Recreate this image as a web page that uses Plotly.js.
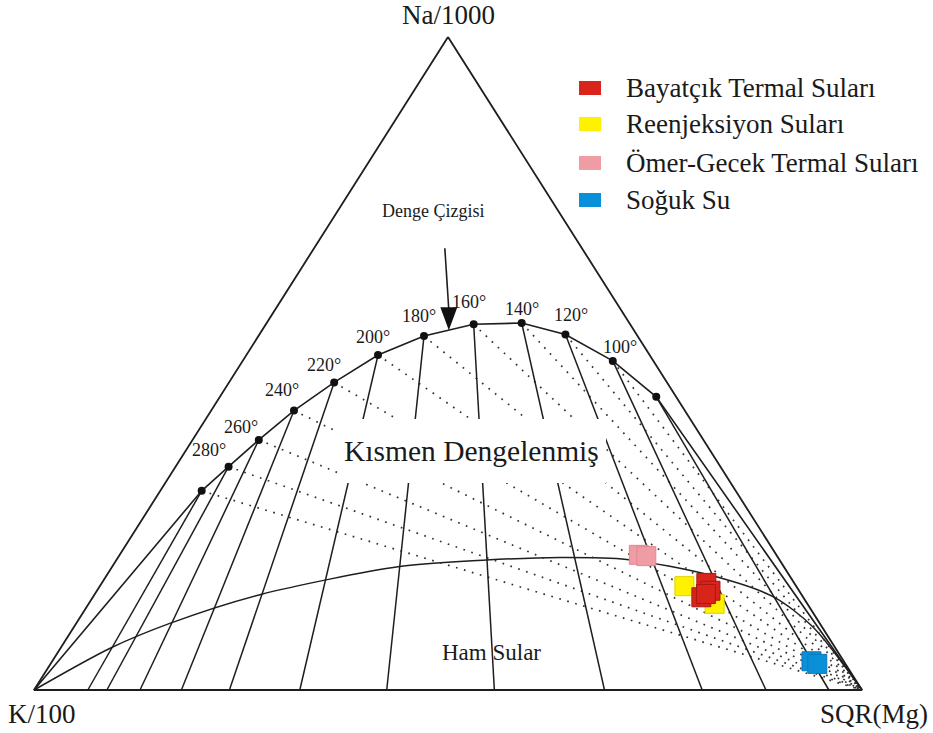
<!DOCTYPE html>
<html><head><meta charset="utf-8">
<script src="https://cdn.plot.ly/plotly-3.0.1.min.js"></script>
<style>html,body{margin:0;padding:0;background:#fff;}#chart{width:933px;height:733px;}</style>
</head><body><div id="chart"></div>
<script>
// ---- Full equilibrium curve (Na/1000, K/100, SQR(Mg); %) ----
const eqTemps = [80, 100, 120, 140, 160, 180, 200, 220, 240, 260, 280, 300];
const eqNa  = [44.9, 50.4, 54.5, 56.2, 56.0, 54.2, 51.3, 47.1, 42.8, 38.3, 34.2, 30.5];
const eqK   = [ 2.4,  4.9,  8.6, 13.0, 18.9, 25.8, 32.8, 40.2, 47.2, 53.7, 59.4, 64.5];
const eqMg  = [52.7, 44.7, 37.0, 30.8, 25.1, 20.0, 15.9, 12.7, 10.0,  8.0,  6.4,  5.0];
// K-Mg isotherms: end points on the K/100 - SQR(Mg) side (SQR(Mg) %), same order as eqTemps
const kmgBaseMg = [96.0, 88.4, 80.7, 68.9, 55.6, 42.6, 32.1, 23.6, 17.8, 12.8, 8.8, 6.5];
// Temperatures that carry a label
const labelTemps = [100, 120, 140, 160, 180, 200, 220, 240, 260, 280];

// ---- Immature waters curve ----
const immNa = [0, 6.4, 10.2, 14.6, 18.9, 19.9, 20.3, 20.0, 17.6, 14.3, 9.7, 0];
const immK  = [100, 87.6, 78.5, 65.4, 46.4, 35.4, 26.3, 18.4, 9.6, 3.6, 1.1, 0];
const immMg = [0, 6.0, 11.3, 20.0, 34.7, 44.7, 53.4, 61.6, 72.8, 82.1, 89.2, 100];

// ---- Samples ----
const seriesNames = ["Bayatçık Termal Suları", "Reenjeksiyon Suları", "Ömer-Gecek Termal Suları", "Soğuk Su"];
const bayatNa = [16.4, 15.2, 14.2, 14.7];
const bayatK  = [10.6, 10.7, 12.3, 11.5];
const bayatMg = [73.0, 74.1, 73.5, 73.8];
const reenjNa = [15.9, 13.2];
const reenjK  = [13.5, 11.2];
const reenjMg = [70.6, 75.6];
const omerNa = [20.7, 20.5];
const omerK  = [16.6, 15.8];
const omerMg = [62.7, 63.7];
const sogukNa = [4.4, 4.0];
const sogukK  = [3.9, 3.4];
const sogukMg = [91.7, 92.6];

// ---- styling / layout constants ----
const colors = {red: "#d9241c", yellow: "#fff200", pink: "#f09ca4", blue: "#0a90d8"};
const lineCol = "#1e1e1e";
const serif = "Liberation Serif, Times New Roman, serif";
const labelDx = [7, 6, 0, -5, -5, -5, -10, -12, -18, -20];
const labelDy = [14, 19, 14, 22, 20, 18, 17, 21, 13, 17];

function xy(na, k, mg) { const s = na + k + mg; const a = na / s, c = mg / s; return [c + a / 2, a]; }
// pixel helpers for decorations (figure px -> plot units)
const PX0 = 34, PW = 828, PY0 = 690, PH = 653;
const px = v => (v - PX0) / PW;
const py = v => (PY0 - v) / PH;

const cNa = [100, 0, 0], cK = [0, 100, 0], cMg = [0, 0, 100];

function pathTrace(points, line, extra) {
  const x = [], y = [];
  points.forEach(p => { if (p === null) { x.push(null); y.push(null); } else { const q = xy(p[0], p[1], p[2]); x.push(q[0]); y.push(q[1]); } });
  return Object.assign({type: "scatter", mode: "lines", x, y, line, hoverinfo: "skip", cliponaxis: false, showlegend: false}, extra || {});
}

const eqPts = eqTemps.map((t, i) => [eqNa[i], eqK[i], eqMg[i]]);

const traces = [];
// triangle
traces.push(pathTrace([cNa, cK, cMg, cNa], {color: lineCol, width: 1.8}));
// immature curve
traces.push(pathTrace(immNa.map((v, i) => [v, immK[i], immMg[i]]), {color: lineCol, width: 1.5, shape: "spline", smoothing: 0.8}));
// Na-K isotherms (dotted) to SQR(Mg) corner
const dotPts = [];
eqTemps.forEach((t, i) => { if (t >= 100) { dotPts.push(eqPts[i], cMg, null); } });
traces.push(pathTrace(dotPts, {color: "#333", width: 1.7, dash: "1.7px,6.6px"}));
// K-Mg isotherms (solid) to K-Mg side
const kmPts = [];
eqTemps.forEach((t, i) => { kmPts.push(eqPts[i], [0, 100 - kmgBaseMg[i], kmgBaseMg[i]], null); });
traces.push(pathTrace(kmPts, {color: lineCol, width: 1.5}));
// full equilibrium curve
const eqCurve = [cK].concat(eqPts.slice().reverse()).concat([cMg]);
traces.push(pathTrace(eqCurve, {color: lineCol, width: 1.6}));
// equilibrium points
traces.push(Object.assign(pathTrace(eqPts, {width: 0}), {mode: "markers", marker: {color: "#111", size: 8}}));

function sampleTrace(na, k, mg, col, lineC, name) {
  const q = na.map((v, i) => xy(v, k[i], mg[i]));
  return {type: "scatter", mode: "markers", name, x: q.map(p => p[0]), y: q.map(p => p[1]),
    marker: {symbol: "square", size: 19, color: col, line: {color: lineC, width: 1}},
    hoverinfo: "name", cliponaxis: false, showlegend: false};
}
traces.push(sampleTrace(reenjNa, reenjK, reenjMg, colors.yellow, "#e0d000", seriesNames[1]));
traces.push(sampleTrace(bayatNa, bayatK, bayatMg, colors.red, "#a81812", seriesNames[0]));
traces.push(sampleTrace(omerNa, omerK, omerMg, colors.pink, "#e08890", seriesNames[2]));
traces.push(sampleTrace(sogukNa, sogukK, sogukMg, colors.blue, "#0a78c0", seriesNames[3]));

const annotations = [];
const txt = (x, y, text, size, xanchor, extra) => Object.assign({x, y, xref: "x", yref: "y", text, showarrow: false,
  xanchor: xanchor || "center", yanchor: "middle", font: {family: serif, size, color: "#1a1a1a"}}, extra || {});

// temperature labels
labelTemps.forEach((t, j) => {
  const i = eqTemps.indexOf(t);
  const q = xy(eqNa[i], eqK[i], eqMg[i]);
  annotations.push(txt(q[0], q[1], t + "°", 18, "center", {xshift: labelDx[j], yshift: labelDy[j]}));
});
// corner labels
let q = xy(...cNa); annotations.push(txt(q[0], q[1], "Na/1000", 27, "center", {yshift: 22}));
q = xy(...cK); annotations.push(txt(q[0], q[1], "K/100", 27, "center", {xshift: 8, yshift: -24}));
q = xy(...cMg); annotations.push(txt(q[0], q[1], "SQR(Mg)", 27, "center", {xshift: 12, yshift: -24}));
// region labels
annotations.push(txt(px(471), py(451), "Kısmen Dengelenmiş", 29.5));
annotations.push(txt(px(491), py(652), "Ham Sular", 23));
annotations.push(txt(px(380), py(211), "Denge Çizgisi", 18, "left"));
// legend texts
const legY = [88, 124, 163, 200];
const legCols = [colors.red, colors.yellow, colors.pink, colors.blue];
seriesNames.forEach((n, i) => annotations.push(txt(px(624), py(legY[i]), n, 27, "left")));

// shapes
const shapes = [];
// mask behind "Kısmen Dengelenmiş"
shapes.push({type: "rect", xref: "x", yref: "y", x0: px(338), x1: px(606), y0: py(483), y1: py(419),
  fillcolor: "#ffffff", line: {width: 0}, layer: "above"});
// arrow to equilibrium line (tip between 180 and 160 deg points)
const a1 = xy(eqNa[5], eqK[5], eqMg[5]), a2 = xy(eqNa[4], eqK[4], eqMg[4]);
const tip = [(a1[0] + a2[0]) / 2, (a1[1] + a2[1]) / 2];
shapes.push({type: "path", xref: "x", yref: "y", xsizemode: "pixel", ysizemode: "pixel", xanchor: tip[0], yanchor: tip[1],
  path: "M0,20L-4,82", line: {color: lineCol, width: 1.6}, layer: "above"});
shapes.push({type: "path", xref: "x", yref: "y", xsizemode: "pixel", ysizemode: "pixel", xanchor: tip[0], yanchor: tip[1],
  path: "M0,0L-8.5,23L8.5,23Z", fillcolor: "#111", line: {width: 0}, layer: "above"});
// legend swatches
legY.forEach((yv, i) => shapes.push({type: "rect", xref: "x", yref: "y", x0: px(579), x1: px(601), y0: py(yv + 7), y1: py(yv - 7),
  fillcolor: legCols[i], line: {width: 0}, layer: "above"}));

const layout = {
  width: 933, height: 733,
  margin: {l: 0, r: 0, t: 0, b: 0, pad: 0},
  paper_bgcolor: "#ffffff", plot_bgcolor: "#ffffff",
  xaxis: {range: [-PX0 / PW, (933 - PX0) / PW], visible: false, fixedrange: true},
  yaxis: {range: [-(733 - PY0) / PH, PY0 / PH], visible: false, fixedrange: true},
  showlegend: false,
  annotations, shapes
};
Plotly.newPlot("chart", traces, layout, {displayModeBar: false, staticPlot: true});
</script>
</body></html>
